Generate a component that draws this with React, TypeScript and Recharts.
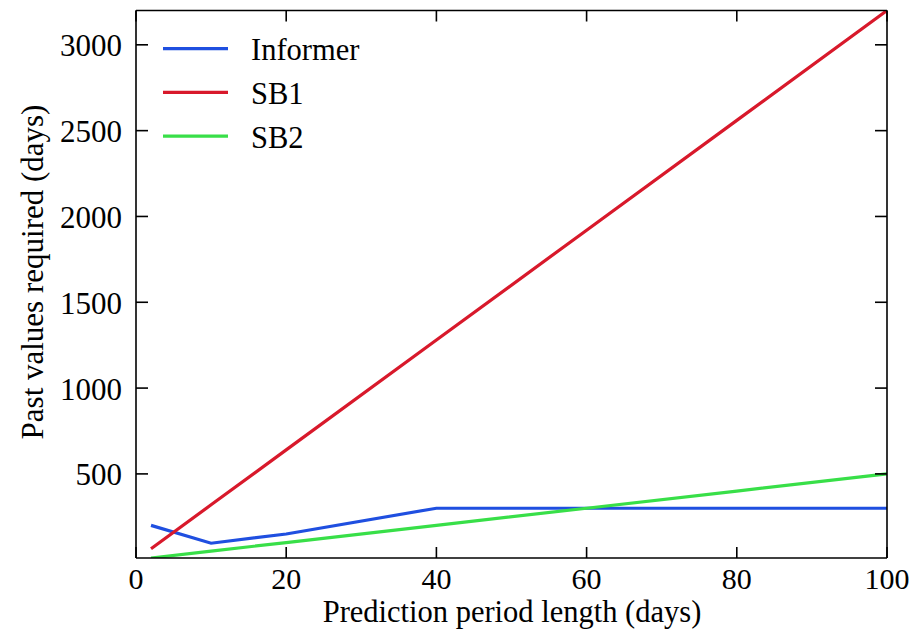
import React from 'react';
import { LineChart, Line, XAxis, YAxis, Legend } from 'recharts';

const predictionDays = [2, 10, 20, 40, 60, 80, 100];
const informerValues = [200, 96, 150, 300, 300, 300, 300];
const sb1Values = [64, 320, 640, 1280, 1920, 2560, 3200];
const sb2Values = [10, 50, 100, 200, 300, 400, 500];
const xTicks = [0, 20, 40, 60, 80, 100];
const yTicks = [500, 1000, 1500, 2000, 2500, 3000];

const seriesInfo = [
  { key: 'informer', name: 'Informer', color: '#1f4fe0' },
  { key: 'sb1', name: 'SB1', color: '#d8192b' },
  { key: 'sb2', name: 'SB2', color: '#38df48' },
];

const data = predictionDays.map((d, i) => ({
  x: d,
  informer: informerValues[i],
  sb1: sb1Values[i],
  sb2: sb2Values[i],
}));

const FONT = "'Liberation Serif', 'Times New Roman', serif";
const TICK_FS = 31;
const XTICK_FS = 30;
const LABEL_FS = 30.5;
const LEGEND_FS = 30.5;

const LegendContent = () => (
  <svg width={260} height={160} style={{ display: 'block' }}>
    {seriesInfo.map((s, i) => (
      <g key={s.key}>
        <line x1={13} x2={78} y1={23.7 + i * 43.7} y2={23.7 + i * 43.7} stroke={s.color} strokeWidth={3.2} />
        <text x={101} y={35.3 + i * 43.7} fontFamily={FONT} fontSize={LEGEND_FS} fill="#000">
          {s.name}
        </text>
      </g>
    ))}
  </svg>
);

const XTick = (props: any) => (
  <text x={props.x} y={588.5} textAnchor="middle" fontFamily={FONT} fontSize={XTICK_FS} fill="#000">
    {props.payload.value}
  </text>
);

const YTick = (props: any) => (
  <text x={122} y={props.y + 11.5} textAnchor="end" fontFamily={FONT} fontSize={TICK_FS} fill="#000">
    {props.payload.value}
  </text>
);

export default function App() {
  return (
    <div style={{ position: 'absolute', left: 0, top: 0 }}>
      <LineChart width={912} height={643} data={data} margin={{ top: 0, right: 0, bottom: 0, left: 0 }}>
        <XAxis
          dataKey="x"
          type="number"
          domain={[0, 100]}
          ticks={xTicks}
          height={85}
          axisLine={{ stroke: '#000', strokeWidth: 1.6 }}
          tickLine={{ stroke: '#000', strokeWidth: 1.6 }}
          tickSize={-11}
          tick={<XTick />}
          label={{
            content: () => (
              <text x={512} y={622} textAnchor="middle" fontFamily={FONT} fontSize={LABEL_FS} fill="#000">
                Prediction period length (days)
              </text>
            ),
          }}
        />
        <XAxis
          xAxisId="top"
          orientation="top"
          dataKey="x"
          type="number"
          domain={[0, 100]}
          ticks={xTicks}
          height={10.5}
          axisLine={{ stroke: '#000', strokeWidth: 1.6 }}
          tickLine={{ stroke: '#000', strokeWidth: 1.6 }}
          tickSize={-11}
          tick={() => null}
        />
        <YAxis
          type="number"
          domain={[10, 3200]}
          ticks={yTicks}
          allowDataOverflow
          width={136}
          axisLine={{ stroke: '#000', strokeWidth: 1.6 }}
          tickLine={{ stroke: '#000', strokeWidth: 1.6 }}
          tickSize={-12}
          tick={<YTick />}
          label={{
            content: () => (
              <text
                x={43}
                y={272}
                transform="rotate(-90, 43, 272)"
                textAnchor="middle"
                fontFamily={FONT}
                fontSize={31}
                fill="#000"
              >
                Past values required (days)
              </text>
            ),
          }}
        />
        <YAxis
          yAxisId="right"
          orientation="right"
          type="number"
          domain={[10, 3200]}
          ticks={yTicks}
          allowDataOverflow
          width={25}
          axisLine={{ stroke: '#000', strokeWidth: 1.6 }}
          tickLine={{ stroke: '#000', strokeWidth: 1.6 }}
          tickSize={-12}
          tick={() => null}
        />
        <Legend
          layout="vertical"
          align="center"
          verticalAlign="middle"
          wrapperStyle={{ position: 'absolute', left: 150, top: 25, width: 260, height: 160 }}
          content={() => <LegendContent />}
        />
        {seriesInfo.map((s) => (
          <Line
            key={s.key}
            type="linear"
            dataKey={s.key}
            name={s.name}
            stroke={s.color}
            strokeWidth={3.2}
            dot={false}
            isAnimationActive={false}
          />
        ))}
      </LineChart>
    </div>
  );
}
